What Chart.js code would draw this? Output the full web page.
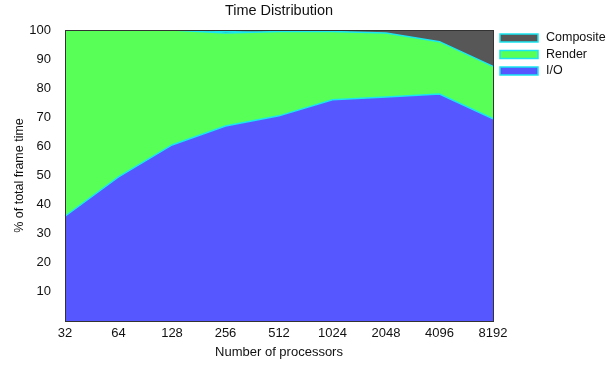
<!DOCTYPE html>
<html>
<head>
<meta charset="utf-8">
<script src="https://cdn.jsdelivr.net/npm/chart.js@4.4.1/dist/chart.umd.min.js"></script>
<style>
  html, body { margin: 0; padding: 0; background: #fff; }
  #wrap { width: 608px; height: 366px; position: relative; }
</style>
</head>
<body>
<div id="wrap"><canvas id="c" width="608" height="366"></canvas></div>
<script>
// Processor counts on the x axis
const processors = ['32', '64', '128', '256', '512', '1024', '2048', '4096', '8192'];

// Share of total frame time (%) spent in each phase, stacked bottom to top
const ioShare        = [36, 49.5, 60.5, 67, 70.5, 76, 77, 78, 69.5];
const renderShare    = [64, 50.5, 39.5, 32, 29, 23.5, 22, 18, 18];
const compositeShare = [0, 0, 0, 0.5, 0.5, 0.5, 1, 4, 12.5];

const yTicks = [10, 20, 30, 40, 50, 60, 70, 80, 90, 100];

const chartTitle = 'Time Distribution';

const FONT = '"Liberation Sans", Arial, Helvetica, sans-serif';
const EDGE = '#19e6f0';

// Frame around the plot area
const framePlugin = {
  id: 'frame',
  afterDatasetsDraw(chart) {
    const a = chart.chartArea, ctx = chart.ctx;
    ctx.save();
    ctx.strokeStyle = '#333';
    ctx.lineWidth = 1;
    ctx.strokeRect(Math.round(a.left) + 0.5, Math.round(a.top) + 0.5,
                   Math.round(a.right - a.left), Math.round(a.bottom - a.top));
    ctx.restore();
  }
};

// Title centred over the plot area rather than the whole canvas
const plotTitle = {
  id: 'plotTitle',
  afterDraw(chart) {
    const a = chart.chartArea, ctx = chart.ctx;
    ctx.save();
    ctx.font = '14.5px ' + FONT;
    ctx.fillStyle = '#111';
    ctx.textAlign = 'center';
    ctx.textBaseline = 'middle';
    ctx.fillText(chartTitle, (a.left + a.right) / 2, 10.5);
    ctx.restore();
  }
};

// Legend listed top-down: Composite, Render, I/O
const sideLegend = {
  id: 'sideLegend',
  afterDraw(chart) {
    const ctx = chart.ctx;
    const ds = chart.data.datasets.slice().reverse();
    const x0 = chart.chartArea.right + 7;
    ctx.save();
    ctx.font = '12.5px ' + FONT;
    ctx.textBaseline = 'middle';
    ds.forEach((d, i) => {
      const cy = 38 + i * 16.5;
      ctx.fillStyle = d.backgroundColor;
      ctx.fillRect(x0, cy - 4, 38, 8);
      ctx.strokeStyle = EDGE;
      ctx.lineWidth = 1.5;
      ctx.strokeRect(x0, cy - 4, 38, 8);
      ctx.fillStyle = '#111';
      ctx.fillText(d.label, x0 + 46, cy);
    });
    ctx.restore();
  }
};

new Chart(document.getElementById('c'), {
  type: 'line',
  data: {
    labels: processors,
    datasets: [
      { label: 'I/O', data: ioShare, backgroundColor: '#5757ff', fill: 'origin' },
      { label: 'Render', data: renderShare, backgroundColor: '#57ff57', fill: '-1' },
      { label: 'Composite', data: compositeShare, backgroundColor: '#575757', fill: '-1' }
    ].map(d => Object.assign(d, {
      borderColor: EDGE, borderWidth: 1.5, pointRadius: 0, tension: 0
    }))
  },
  options: {
    responsive: false,
    animation: false,
    layout: { padding: { left: 0, right: 115, top: 30, bottom: 0 } },
    plugins: {
      legend: { display: false },
      tooltip: { enabled: false },
      title: { display: false }
    },
    scales: {
      x: {
        offset: false,
        grid: { display: false, drawTicks: false },
        border: { display: false },
        ticks: { color: '#111', font: { family: FONT, size: 13 }, padding: 5, maxRotation: 0, autoSkip: false },
        title: { display: true, text: 'Number of processors', color: '#111',
                 font: { family: FONT, size: 13 }, padding: { top: 0, bottom: 6 } },
        afterFit(s) { s.height = 45; }
      },
      y: {
        stacked: true,
        min: 0, max: 100,
        grid: { display: false, drawTicks: false },
        border: { display: false },
        afterBuildTicks(s) { s.ticks = yTicks.map(v => ({ value: v })); },
        ticks: { color: '#111', font: { family: FONT, size: 13 }, padding: 14 },
        title: { display: true, text: '% of total frame time', color: '#111',
                 font: { family: FONT, size: 12.5 }, padding: { top: 12, bottom: 0 } },
        afterFit(s) { s.width = 65; }
      }
    }
  },
  plugins: [framePlugin, plotTitle, sideLegend]
});
</script>
</body>
</html>
